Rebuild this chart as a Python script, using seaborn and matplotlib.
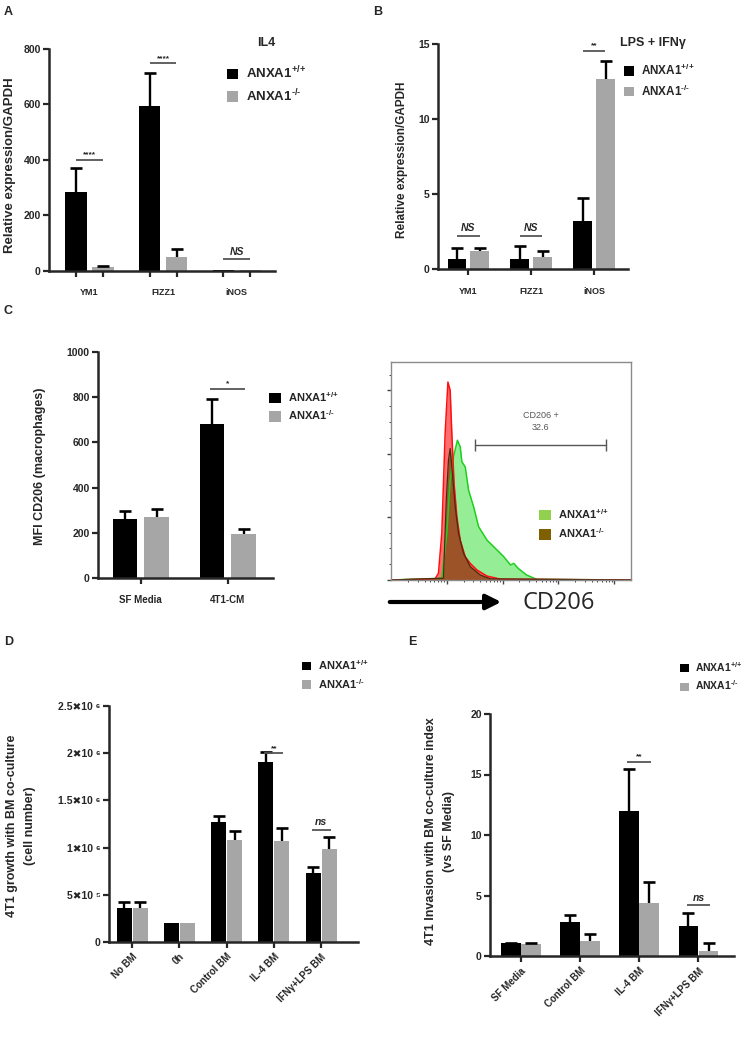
import matplotlib
matplotlib.use("Agg")

import matplotlib.pyplot as plt
import numpy as np
import pandas as pd
import seaborn as sns
from matplotlib.patches import FancyArrowPatch, Patch

W, H = 750, 1043
BLACK = "#000000"
GREY = "#a6a6a6"

GENOTYPES = ["ANXA1+/+", "ANXA1-/-"]
LEGEND_LABELS = [r"ANXA1$^{\text{+/+}}$", r"ANXA1$^{\text{-/-}}$"]

# A: IL4 stimulated BMDM, qPCR
a_genes = ["YM1", "FIZZ1", "iNOS"]
a_wt = [285, 593, 5]
a_wt_sem = [85, 120, 0]
a_ko = [14, 52, 3]
a_ko_sem = [5, 28, 0]
a_sig = ["****", "****", "NS"]
a_sig_y = [400, 748, 42]

# B: LPS + IFNg stimulated BMDM, qPCR
b_genes = ["YM1", "FIZZ1", "iNOS"]
b_wt = [0.7, 0.7, 3.2]
b_wt_sem = [0.7, 0.85, 1.55]
b_ko = [1.2, 0.8, 12.65]
b_ko_sem = [0.2, 0.4, 1.2]
b_sig = ["NS", "NS", "**"]
b_sig_y = [2.2, 2.2, 14.55]

# C: MFI CD206
c_groups = ["SF Media", "4T1-CM"]
c_wt = [262, 680]
c_wt_sem = [35, 110]
c_ko = [270, 195]
c_ko_sem = [35, 20]
c_sig = ["", "*"]
c_sig_y = [0, 836]

# C right: CD206 histograms (x = log10 fluorescence, y = % of max)
iso_x = [0.0, 0.79, 0.85, 0.91, 0.97, 1.02, 1.06, 1.09, 1.13, 1.18, 1.24, 1.33, 1.42, 1.54, 1.72, 1.96, 4.3]
iso_y = [0.0, 0.5, 3.1, 21.4, 67.2, 90.8, 87.0, 67.2, 44.3, 29.0, 18.3, 10.7, 7.6, 4.6, 1.8, 0.4, 0.0]
wt_x = [0.0, 0.91, 1.00, 1.06, 1.12, 1.19, 1.24, 1.27, 1.33, 1.39, 1.48, 1.57, 1.72, 1.87, 2.02, 2.14, 2.20, 2.28, 2.43, 2.61, 4.3]
wt_y = [0.0, 0.8, 21.4, 45.8, 56.5, 64.1, 61.1, 54.2, 51.9, 41.2, 33.6, 24.4, 18.3, 14.5, 10.7, 6.9, 7.6, 5.3, 2.3, 0.3, 0.0]
ko_x = [0.0, 0.94, 0.99, 1.03, 1.06, 1.10, 1.15, 1.21, 1.30, 1.42, 1.60, 1.78, 4.3]
ko_y = [0.0, 0.8, 36.6, 55.0, 60.3, 48.9, 33.6, 21.4, 12.2, 6.1, 2.3, 0.5, 0.0]
gate_x = [1.51, 3.85]
gate_y = 61.8
gate_label = "CD206 +\n32.6"

# D: 4T1 growth
d_groups = ["No BM", "0h", "Control BM", "IL-4 BM", "IFNγ+LPS BM"]
d_wt = [0.36e6, 0.20e6, 1.27e6, 1.91e6, 0.73e6]
d_wt_sem = [0.06e6, 0, 0.07e6, 0.10e6, 0.06e6]
d_ko = [0.36e6, 0.20e6, 1.08e6, 1.075e6, 0.99e6]
d_ko_sem = [0.06e6, 0, 0.10e6, 0.135e6, 0.12e6]
d_sig = ["", "", "", "**", "ns"]
d_sig_y = [0, 0, 0, 2.0e6, 1.19e6]
d_yticks = [0, 0.5e6, 1.0e6, 1.5e6, 2.0e6, 2.5e6]
d_yticklabels = ["0", "5✖10 ⁵", "1✖10 ⁶", "1.5✖10 ⁶", "2✖10 ⁶", "2.5✖10 ⁶"]

# E: 4T1 invasion
e_groups = ["SF Media", "Control BM", "IL-4 BM", "IFNγ+LPS BM"]
e_wt = [1.05, 2.84, 11.98, 2.48]
e_wt_sem = [0.03, 0.55, 3.45, 1.07]
e_ko = [1.0, 1.24, 4.41, 0.41]
e_ko_sem = [0.05, 0.58, 1.71, 0.64]
e_sig = ["", "", "**", "ns"]
e_sig_y = [0, 0, 16.06, 4.19]


sns.set_style("ticks")
plt.rcParams["font.family"] = ["Liberation Sans", "DejaVu Sans"]
plt.rcParams["font.weight"] = "bold"
plt.rcParams["mathtext.fontset"] = "custom"
plt.rcParams["mathtext.rm"] = "Liberation Sans:bold"
plt.rcParams["mathtext.bf"] = "Liberation Sans:bold"
plt.rcParams["mathtext.it"] = "Liberation Sans:bold:italic"
plt.rcParams["mathtext.default"] = "bf"

fig = plt.figure(figsize=(W / 100, H / 100), dpi=100)


def px_axes(left, top, right, bottom):
    return fig.add_axes([left / W, 1 - bottom / H, (right - left) / W, (bottom - top) / H])


def fig_text(xpx, ypx, s, **kw):
    return fig.text(xpx / W, 1 - ypx / H, s, **kw)


def draw_bars(ax, cats, wt, wt_sem, ko, ko_sem, width, gap, cap=8):
    df = pd.DataFrame({
        "group": cats + cats,
        "genotype": [GENOTYPES[0]] * len(cats) + [GENOTYPES[1]] * len(cats),
        "value": wt + ko,
    })
    sns.barplot(data=df, x="group", y="value", hue="genotype", order=cats,
                hue_order=GENOTYPES, palette=[BLACK, GREY], saturation=1,
                width=width, gap=gap, errorbar=None, legend=False,
                linewidth=0, ax=ax)
    centers = []
    for bar, val, sem in zip(ax.patches, wt + ko, wt_sem + ko_sem):
        cx = bar.get_x() + bar.get_width() / 2
        centers.append(cx)
        if sem > 0:
            # upper error only, black line with a cap on top
            ax.plot([cx, cx], [val, val + sem], color="black", lw=1.7, solid_capstyle="butt")
            ax.plot([cx], [val + sem], marker="_", ms=cap, mew=1.9, color="black")
    return centers


def style_axes(ax, xlim, ylim, yticks, xsize=7, pad=8, rotate=False):
    ax.set_xlim(xlim)
    ax.set_ylim(ylim)
    ax.set_yticks(yticks)
    ax.set_xlabel("")
    ax.set_ylabel("")
    sns.despine(ax=ax)
    for side in ("left", "bottom"):
        ax.spines[side].set_linewidth(1.8)
    ax.tick_params(direction="out", length=4, width=1.6)
    ax.tick_params(axis="y", labelsize=7.5, pad=2)
    ax.tick_params(axis="x", labelsize=xsize, pad=pad)
    if rotate:
        for lab in ax.get_xticklabels():
            lab.set_rotation(45)
            lab.set_ha("right")
            lab.set_rotation_mode("anchor")


def add_sig(ax, labels, ys, half, italic_size=7.5, star_size=6):
    for i, (lab, y) in enumerate(zip(labels, ys)):
        if not lab:
            continue
        ax.plot([i - half, i + half], [y, y], color="#555555", lw=1.3, solid_capstyle="butt")
        if lab.startswith("*"):
            ax.annotate(lab, (i, y), xytext=(0, 1), textcoords="offset points",
                        ha="center", va="bottom", fontsize=star_size)
        else:
            ax.annotate(lab, (i, y), xytext=(0, 2), textcoords="offset points",
                        ha="center", va="bottom", fontsize=italic_size, style="italic")


def legend_at(ax, xpx, ypx, handles, labels, fs=9, size=0.85, spacing=0.45):
    leg = ax.legend(handles, labels, loc="upper left",
                    bbox_to_anchor=(xpx / W, 1 - ypx / H), bbox_transform=fig.transFigure,
                    frameon=False, fontsize=fs, handlelength=size, handleheight=size,
                    handletextpad=0.6, labelspacing=spacing, borderpad=0, borderaxespad=0)
    return leg


geno_handles = [Patch(facecolor=BLACK, edgecolor="none"), Patch(facecolor=GREY, edgecolor="none")]

# ---------------- A ----------------
ax_a = px_axes(49, 49, 275, 271)
centers_a = draw_bars(ax_a, a_genes, a_wt, a_wt_sem, a_ko, a_ko_sem, 0.734, 0.22)
style_axes(ax_a, (-0.55, 2.52), (0, 800), [0, 200, 400, 600, 800], xsize=6.5, pad=12)
ax_a.set_xticks(centers_a, minor=True)
ax_a.tick_params(axis="x", which="major", length=0)
ax_a.tick_params(axis="x", which="minor", direction="out", length=4, width=1.6)
add_sig(ax_a, a_sig, a_sig_y, 0.18)
legend_at(ax_a, 227, 65, geno_handles, LEGEND_LABELS, fs=9.5)
fig_text(257, 43, "IL4", fontsize=9, va="center")
fig_text(10, 165, "Relative expression/GAPDH", fontsize=9.5, rotation=90, ha="center", va="center")
fig_text(4, 6, "A", fontsize=9, va="top")

# ---------------- B ----------------
ax_b = px_axes(438, 44, 628, 269)
draw_bars(ax_b, b_genes, b_wt, b_wt_sem, b_ko, b_ko_sem, 0.73, 0.2)
style_axes(ax_b, (-0.48, 2.54), (0, 15), [0, 5, 10, 15], xsize=6.5, pad=9)
add_sig(ax_b, b_sig, b_sig_y, 0.18)
legend_at(ax_b, 624, 63, geno_handles, LEGEND_LABELS, fs=8.5)
fig_text(620, 43, "LPS + IFNγ", fontsize=9, va="center")
fig_text(402, 160, "Relative expression/GAPDH", fontsize=8.5, rotation=90, ha="center", va="center")
fig_text(373, 6, "B", fontsize=9, va="top")

# ---------------- C (bars) ----------------
ax_c = px_axes(98, 352, 273, 578)
draw_bars(ax_c, c_groups, c_wt, c_wt_sem, c_ko, c_ko_sem, 0.73, 0.23, cap=9)
style_axes(ax_c, (-0.49, 1.52), (0, 1000), [0, 200, 400, 600, 800, 1000], xsize=7, pad=8)
add_sig(ax_c, c_sig, c_sig_y, 0.2)
legend_at(ax_c, 269, 390, geno_handles, LEGEND_LABELS, fs=8, size=1.1, spacing=0.4)
fig_text(40, 466, "MFI CD206 (macrophages)", fontsize=9, rotation=90, ha="center", va="center")
fig_text(4, 305, "C", fontsize=9, va="top")

# ---------------- C (flow histogram) ----------------
ax_f = px_axes(391, 362, 631, 580)
ax_f.fill_between(wt_x, wt_y, color="#95ee95", lw=0)
ax_f.plot(wt_x, wt_y, color="#1ecf1e", lw=1.1)
ax_f.fill_between(iso_x, iso_y, color="#ff4a4a", alpha=0.8, lw=0)
ax_f.fill_between(ko_x, ko_y, color="#7a4a12", alpha=0.7, lw=0)
ax_f.plot(iso_x, iso_y, color="#ff1010", lw=1.1)
ax_f.plot(ko_x, ko_y, color="#4a2a10", lw=0.9)
ax_f.plot(gate_x, [gate_y, gate_y], color="#555555", lw=1.0, marker="|", ms=8, mew=1.0)
ax_f.text(sum(gate_x) / 2, gate_y + 6, gate_label, ha="center", va="bottom", fontsize=6.5,
          color="#555555", fontweight="normal", linespacing=1.5)
ax_f.set_xlim(0, 4.3)
ax_f.set_ylim(0, 100)
for side in ax_f.spines.values():
    side.set_color("#8a8a8a")
    side.set_linewidth(1.0)
ax_f.set_yticks([0, 29.0, 58.0, 87.0])
ax_f.set_yticks(np.arange(0, 100, 7.25), minor=True)
ax_f.set_xticks([1, 2, 3, 4])
ax_f.set_xticks([d + np.log10(k) for d in range(0, 5) for k in range(2, 10) if d + np.log10(k) < 4.3], minor=True)
ax_f.tick_params(which="both", direction="out", color="#444444", labelleft=False, labelbottom=False)
ax_f.tick_params(which="major", length=3, width=1.0)
ax_f.tick_params(which="minor", length=1.5, width=0.7)
flow_handles = [Patch(facecolor="#92d050", edgecolor="none"), Patch(facecolor="#7f6000", edgecolor="none")]
legend_at(ax_f, 539, 507, flow_handles, LEGEND_LABELS, fs=8, size=1.1, spacing=0.5)
fig.add_artist(FancyArrowPatch((387 / W, 1 - 602 / H), (504 / W, 1 - 602 / H),
                               transform=fig.transFigure, arrowstyle="-|>,head_length=0.9,head_width=0.45",
                               mutation_scale=10, lw=3, color="black"))
fig_text(523, 603, "CD206", fontsize=17, va="center", fontweight="normal", family="Open Sans")

# ---------------- D ----------------
ax_d = px_axes(109, 706, 358, 942)
draw_bars(ax_d, d_groups, d_wt, d_wt_sem, d_ko, d_ko_sem, 0.68, 0.06)
style_axes(ax_d, (-0.49, 4.78), (0, 2.5e6), d_yticks, xsize=7, pad=3, rotate=True)
ax_d.set_yticklabels(d_yticklabels)
add_sig(ax_d, d_sig, d_sig_y, 0.2)
legend_at(ax_d, 302, 658, geno_handles, LEGEND_LABELS, fs=8)
fig_text(21, 826, "4T1 growth with BM co-culture\n(cell number)", fontsize=9, rotation=90,
         ha="center", va="center", multialignment="center", linespacing=1.7)
fig_text(4, 636, "D", fontsize=9, va="top")

# ---------------- E ----------------
ax_e = px_axes(490, 714, 734, 956)
draw_bars(ax_e, e_groups, e_wt, e_wt_sem, e_ko, e_ko_sem, 0.68, 0.02)
style_axes(ax_e, (-0.52, 3.6), (0, 20), [0, 5, 10, 15, 20], xsize=7, pad=3, rotate=True)
add_sig(ax_e, e_sig, e_sig_y, 0.2)
legend_at(ax_e, 680, 660, geno_handles, LEGEND_LABELS, fs=7.5)
fig_text(440, 831, "4T1 Invasion with BM co-culture index\n(vs SF Media)", fontsize=9, rotation=90,
         ha="center", va="center", multialignment="center", linespacing=1.6)
fig_text(408, 636, "E", fontsize=9, va="top")

fig.savefig("out.png", dpi=100)
plt.close(fig)
